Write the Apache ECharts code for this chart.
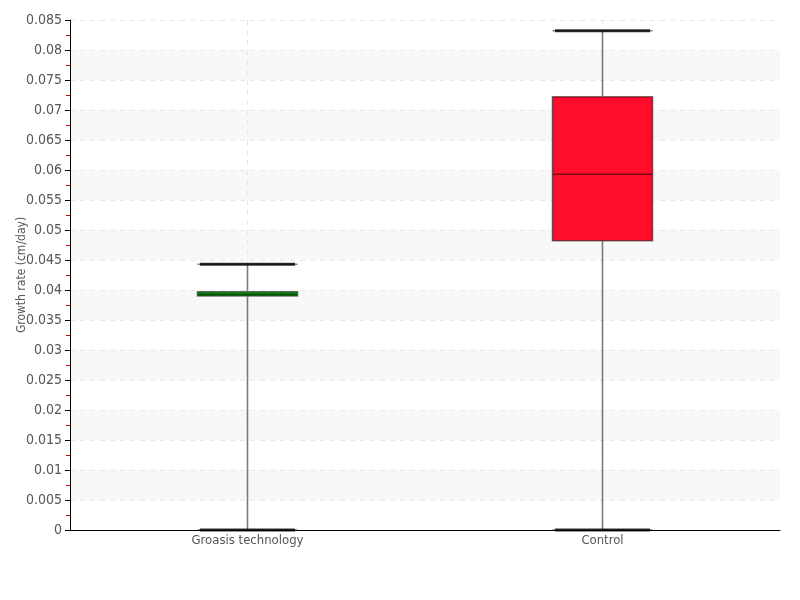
<!DOCTYPE html>
<html>
<head>
<meta charset="utf-8">
<script src="https://cdn.jsdelivr.net/npm/echarts@6/dist/echarts.min.js"></script>
<style>html,body{margin:0;padding:0;background:#fff}#c{width:800px;height:600px}</style>
</head>
<body>
<div id="c"></div>
<script>
var categories = ['Groasis technology', 'Control'];
// [min, Q1, median, Q3, max]
var boxValues = [
  [0, 0.0390, 0.0393, 0.0397, 0.0443],
  [0, 0.0482, 0.0593, 0.0722, 0.0832]
];
var boxColors = ['#1e9a1e', '#ff0d2a'];
var yTicks = { min: 0, max: 0.085, interval: 0.005 };
var yTitle = 'Growth rate (cm/day)';

var FONT = '"DejaVu Sans Condensed", "Liberation Sans Narrow", "Roboto", sans-serif';

var capData = [];
boxValues.forEach(function (v, i) {
  capData.push([categories[i], v[0]]);
  capData.push([categories[i], v[4]]);
});

var chart = echarts.init(document.getElementById('c'));
chart.setOption({
  animation: false,
  backgroundColor: '#fff',
  grid: { left: 70, right: 20, top: 20, bottom: 70, containLabel: false, outerBoundsMode: 'none' },
  xAxis: {
    type: 'category',
    data: categories,
    boundaryGap: true,
    axisLine: { lineStyle: { color: '#000', width: 1 } },
    axisTick: { show: false, alignWithLabel: true },
    axisLabel: { color: '#555', fontSize: 13, fontFamily: FONT, margin: 4 },
    splitLine: { show: true, alignWithLabel: true, lineStyle: { color: '#e8e8e8', type: [5, 5] } }
  },
  yAxis: {
    type: 'value',
    min: yTicks.min,
    max: yTicks.max,
    interval: yTicks.interval,
    name: yTitle,
    nameLocation: 'middle',
    nameGap: 42,
    nameMoveOverlap: false,
    nameTextStyle: { color: '#555', fontSize: 12, fontFamily: FONT },
    axisLine: { show: true, lineStyle: { color: '#000', width: 1 } },
    axisTick: { show: true, length: 5, lineStyle: { color: '#000' } },
    minorTick: { show: true, splitNumber: 2, length: 4, lineStyle: { color: '#e00000', width: 1 } },
    axisLabel: { color: '#555', fontSize: 14, fontFamily: FONT, margin: 8,
      formatter: function (v) { return String(+v.toFixed(3)); } },
    splitLine: { show: true, lineStyle: { color: '#e8e8e8', type: [5, 5] } },
    splitArea: { show: true, areaStyle: { color: ['#ffffff', '#f8f8f8'] } }
  },
  series: [
    {
      type: 'boxplot',
      boxWidth: [100, 100],
      data: boxValues.map(function (v, i) {
        return { value: v, itemStyle: { color: boxColors[i] } };
      }),
      itemStyle: { borderColor: 'rgba(0,0,0,0.5)', borderWidth: 1.6 }
    },
    {
      type: 'scatter',
      symbol: 'rect',
      symbolSize: [95, 3],
      itemStyle: { color: '#000', borderWidth: 0 },
      data: capData,
      z: 5
    }
  ]
});
</script>
</body>
</html>
